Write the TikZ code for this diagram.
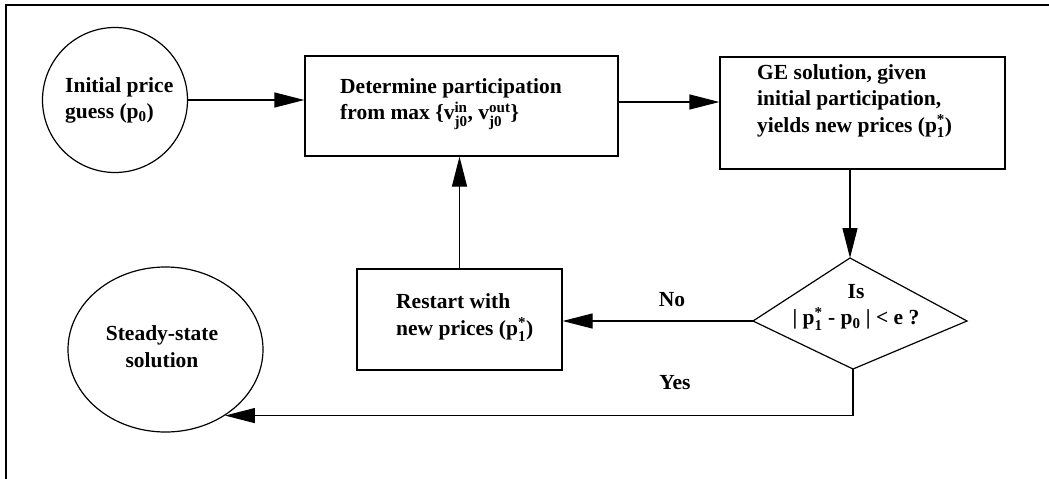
\documentclass[tikz,border=0pt]{standalone}
\usepackage{amsmath}
\usepackage{fontspec}
\setmainfont{Liberation Serif}
\usetikzlibrary{arrows.meta,shapes.geometric}
\newcommand\pstar[1]{p$^{\text{*}}_{\text{#1}}$}
\newcommand\vsub[2]{v$^{\text{#1}}_{\text{#2}}$}
\tikzset{
  ln/.style={line width=1.2pt},
  boxshape/.style={draw, ln, rectangle, inner sep=0pt},
  txt/.style={font=\bfseries\fontsize{21.5}{26.5}\selectfont, inner sep=0pt},
  arr/.style={ln, -{Triangle[length=30pt,width=15pt]}},
}
\begin{document}
\begin{tikzpicture}[x=1pt,y=-1pt]
\useasboundingbox (0,0) rectangle (1049,479);
% outer frame (cropped)
\draw[line width=1.4pt] (6,479) -- (6,5) -- (1049,5);

% shapes
\node[draw, ln, circle, minimum size=145pt, inner sep=0pt] (init) at (115,100) {};
\node[boxshape, minimum width=313pt, minimum height=100pt] (det) at (461.5,106) {};
\node[boxshape, minimum width=285pt, minimum height=112pt] (ge) at (862.5,113) {};
\node[boxshape, minimum width=205pt, minimum height=101pt] (restart) at (459.5,319.5) {};
\node[draw, ln, ellipse, minimum width=195pt, minimum height=165pt, inner sep=0pt] (ss) at (165.5,349.5) {};
\coordinate (dt) at (850,258);
\coordinate (dl) at (753,321);
\coordinate (dr) at (967,321);
\coordinate (db) at (853,369);
\draw[ln, line join=miter] (dt) -- (dr) -- (db) -- (dl) -- cycle;

% texts
\node[txt, align=left, anchor=west] (inittext) at (65,100.5) {Initial price\\guess (p\textsubscript{0})};
\node[txt, align=left, anchor=west] (dettext) at (340,104) {Determine participation\\from max \{\vsub{in}{j0}, \vsub{out}{j0}\}};
\node[txt, align=left, anchor=west] (getext) at (757,101) {GE solution, given\\initial participation,\\yields new prices (\pstar{1})};
\node[txt, align=left, anchor=west] (restarttext) at (396,317.5) {Restart with\\new prices (\pstar{1})};
\node[txt, align=center] (sstext) at (162,346.5) {Steady-state\\solution};
\node[txt, align=center] (dtext) at (856,307.5) {Is\\| \pstar{1} - p\textsubscript{0} | < e ?};
\node[txt] (no) at (672,300) {No};
\node[txt] (yes) at (675,383) {Yes};

% connectors
\draw[arr] (init.east) -- (init.east -| det.west);
\draw[arr] ([yshift=4pt]det.east) -- ([yshift=4pt]det.east -| ge.west);
\draw[arr] (ge.south -| dt) -- (dt);
\draw[arr] (dl) -- (dl -| restart.east);
\draw[arr] (restart.north) -- (restart.north |- det.south);
\draw[arr] (db) |- (ss.-48);
\end{tikzpicture}
\end{document}
